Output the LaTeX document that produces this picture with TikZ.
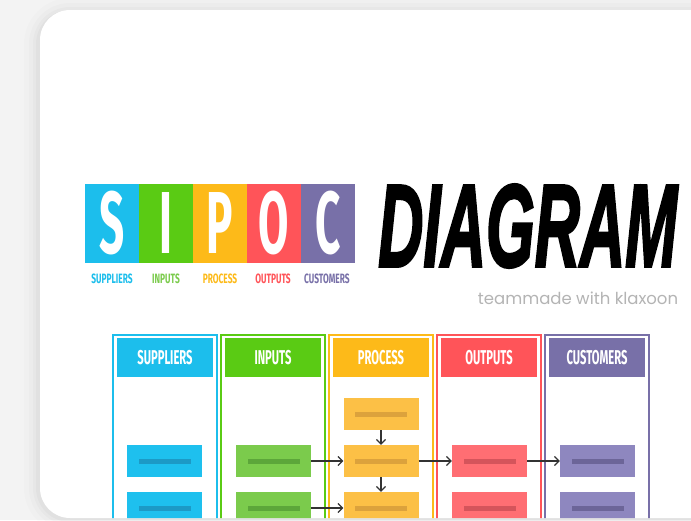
\documentclass[tikz,border=0pt]{standalone}
\usepackage{fontspec}
\setmainfont{Fira Sans}
\newfontfamily\diagfont[FakeBold=2.5]{Liberation Sans}
\newfontfamily\teamfont{Poppins}
\usetikzlibrary{arrows.meta,calc}
\definecolor{pagebg}{HTML}{F3F3F3}
\definecolor{cS}{HTML}{1CBEEC}\definecolor{bS}{HTML}{1EC0EE}\definecolor{dS}{HTML}{1C9AC6}
\definecolor{cI}{HTML}{5ACB14}\definecolor{bI}{HTML}{7BCB4C}\definecolor{dI}{HTML}{5CA63A}
\definecolor{cP}{HTML}{FDBA19}\definecolor{bP}{HTML}{FCC046}\definecolor{dP}{HTML}{DCA23C}
\definecolor{cO}{HTML}{FF5459}\definecolor{bO}{HTML}{FF6E73}\definecolor{dO}{HTML}{D5545B}
\definecolor{cC}{HTML}{7870A8}\definecolor{bC}{HTML}{8E87BF}\definecolor{dC}{HTML}{6C6598}
\definecolor{arrowgrey}{HTML}{333333}
\definecolor{teamgrey}{HTML}{B4B4B4}
\newcommand\sipocletter[1]{\scalebox{0.5}[1]{\bfseries\fontsize{88}{88}\selectfont #1}}
\newcommand\sublabel[1]{\scalebox{0.62}[1]{\bfseries\fontsize{13.5}{13.5}\selectfont #1}}
\newcommand\headtxt[1]{\scalebox{0.56}[1]{\bfseries\fontsize{20}{20}\selectfont #1}}
\tikzset{
  letterblock/.style={fill=#1, text=white, minimum width=54, minimum height=79, inner sep=0},
  colframe/.style={draw=#1, line width=1.6},
  header/.style={fill=#1, text=white, minimum width=96, minimum height=39, inner sep=0},
  sub/.style={text=#1, inner sep=0},
  itembox/.style 2 args={fill=#1, minimum width=75, minimum height=32, inner sep=0,
    path picture={\fill[#2] ($(path picture bounding box.center)+(-26,-2.5)$) rectangle ++(52,5);}},
  flow/.style={draw=arrowgrey, line width=1.2, -{Straight Barb[length=4.5,width=9,line width=1.2]}}
}
\begin{document}
\begin{tikzpicture}[x=1pt,y=-1pt]
\useasboundingbox (0,0) rectangle (691,520);
\fill[pagebg] (0,0) rectangle (691,520);
\foreach \i/\o in {16/0.01,11/0.015,7/0.02,4/0.025}
  \fill[black,opacity=\o,rounded corners=30+\i] (40-\i,10-\i+4) rectangle (780,518+\i);
\fill[white,rounded corners=30] (40,10) rectangle (780,518);
\begin{scope}
\clip[rounded corners=30] (40,10) rectangle (780,518);
% SIPOC letters
\node[letterblock=cS] (lS) at (112,223.5) {\sipocletter{S}};
\node[letterblock=cI] (lI) at (166,223.5) {\sipocletter{I}};
\node[letterblock=cP] (lP) at (220,223.5) {\sipocletter{P}};
\node[letterblock=cO] (lO) at (274,223.5) {\sipocletter{O}};
\node[letterblock=cC] (lC) at (328,223.5) {\sipocletter{C}};
\node[sub=cS] (tS) at (112,279) {\sublabel{SUPPLIERS}};
\node[sub=bI] (tI) at (166,279) {\sublabel{INPUTS}};
\node[sub=cP] (tP) at (220,279) {\sublabel{PROCESS}};
\node[sub=cO] (tO) at (273,279) {\sublabel{OUTPUTS}};
\node[sub=cC] (tC) at (327,279) {\sublabel{CUSTOMERS}};
\node[anchor=west,inner sep=0] (diag) at (378,226) {\resizebox{299pt}{82pt}{\diagfont\bfseries\itshape DIAGRAM}};
\node[text=teamgrey,inner sep=0] (team) at (578,298) {\teamfont\fontsize{16.5}{16.5}\selectfont teammade with klaxoon};
% columns
\foreach \l/\c in {113/cS,221/cI,329/cP,437/cO,545/cC}
  \draw[colframe=\c] (\l,335) rectangle (\l+104,560);
\node[header=cS] (hS) at (165,357.5) {\headtxt{SUPPLIERS}};
\node[header=cI] (hI) at (273,357.5) {\headtxt{INPUTS}};
\node[header=cP] (hP) at (381,357.5) {\headtxt{PROCESS}};
\node[header=cO] (hO) at (489,357.5) {\headtxt{OUTPUTS}};
\node[header=cC] (hC) at (597,357.5) {\headtxt{CUSTOMERS}};
% items
\node[itembox={bS}{dS}] (s1) at (164.5,461) {};
\node[itembox={bS}{dS}] (s2) at (164.5,508) {};
\node[itembox={bI}{dI}] (i1) at (273.5,461) {};
\node[itembox={bI}{dI}] (i2) at (273.5,508) {};
\node[itembox={bP}{dP}] (p0) at (381,414) {};
\node[itembox={bP}{dP}] (p1) at (381,461) {};
\node[itembox={bP}{dP}] (p2) at (381,508) {};
\node[itembox={bO}{dO}] (o1) at (489.5,461) {};
\node[itembox={bO}{dO}] (o2) at (489.5,508) {};
\node[itembox={bC}{dC}] (c1) at (597.5,461) {};
\node[itembox={bC}{dC}] (c2) at (597.5,508) {};
% flows
\draw[flow] (p0) -- (p1);
\draw[flow] (p1) -- (p2);
\draw[flow] (i1) -- (p1);
\draw[flow] (i2) -- (p2);
\draw[flow] (p1) -- (o1);
\draw[flow] (o1) -- (c1);
\end{scope}
\end{tikzpicture}
\end{document}
